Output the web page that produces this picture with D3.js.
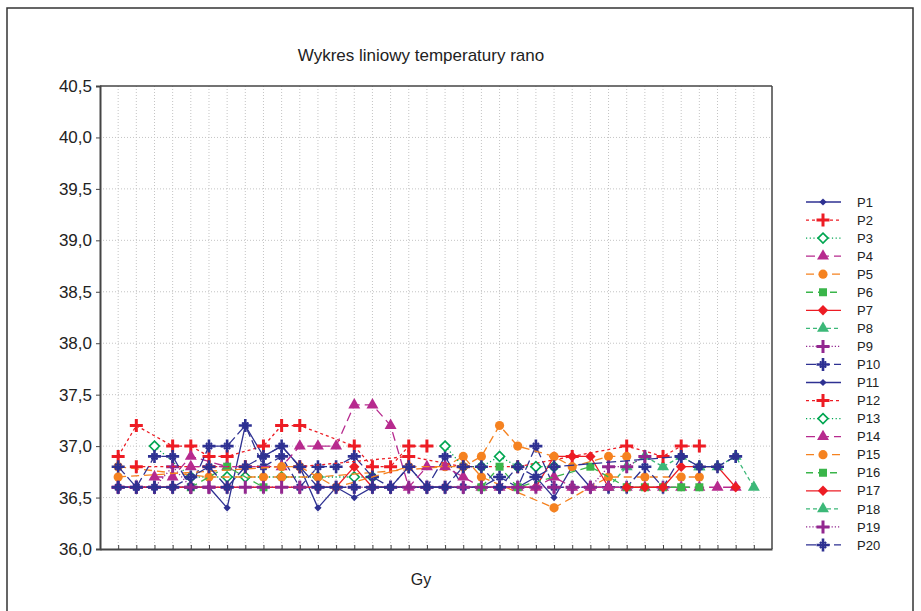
<!DOCTYPE html>
<html><head><meta charset="utf-8">
<script src="https://cdn.jsdelivr.net/npm/d3@7"></script>
<style>body{margin:0;background:#fff}svg{display:block}text{font-family:"Liberation Sans",Arial,sans-serif;fill:#222}</style>
</head><body><svg id="c" width="921" height="611"></svg>
<script>
const _ = null;
const title = "Wykres liniowy temperatury rano";
const xLabel = "Gy";
const categories = [1,2,3,4,5,6,7,8,9,10,11,12,13,14,15,16,17,18,19,20,21,22,23,24,25,26,27,28,29,30,31,32,33,34,35,36];
const yTicks = [36.0,36.5,37.0,37.5,38.0,38.5,39.0,39.5,40.0,40.5];
const seriesNames = ["P1","P2","P3","P4","P5","P6","P7","P8","P9","P10","P11","P12","P13","P14","P15","P16","P17","P18","P19","P20"];

const P1  = [36.6,36.6,36.6,36.6,_,36.6, 36.4,37.2,36.9,37.0,36.8,36.4, 36.6,36.5,36.6,36.6,_,36.6, _,_,_,_,_,_, _,_,_,_,_,_, _,_,_,_,_,_];
const P2  = [36.9,37.2,_,37.0,37.0,36.9, 36.9,_,37.0,37.2,37.2,_, _,37.0,36.8,36.8,37.0,37.0, _,_,_,_,_,_, _,_,_,_,_,_, _,_,_,_,_,_];
const P3  = [_,_,37.0,_,36.7,_, 36.7,36.7,_,36.7,_,36.7, _,36.7,36.7,_,_,_, _,_,_,_,_,_, _,_,_,_,_,_, _,_,_,_,_,_];
const P4  = [_,_,36.7,36.7,36.9,_, 36.8,_,_,_,_,_, _,_,_,_,_,_, _,_,_,_,_,_, _,_,_,_,_,_, _,_,_,_,_,_];
const P5  = [36.8,_,_,_,_,36.7, _,_,36.7,36.7,_,36.7, _,_,_,_,_,_, 36.8,36.9,36.7,_,_,_, 36.4,_,_,36.7,_,36.7, _,36.7,36.7,_,_,_];
const P6  = [_,_,_,_,36.6,_, 36.8,_,36.6,_,_,_, _,_,_,_,_,_, _,_,_,_,_,_, _,_,_,_,_,_, _,_,_,_,_,_];
const P7  = [36.6,_,_,36.6,_,_, 36.6,_,_,_,_,36.6, 36.6,36.8,36.6,36.6,_,36.6, 36.6,_,_,36.6,_,36.6, 36.9,36.9,36.9,36.6,_,_, _,_,_,_,_,_];
const P8  = [_,_,_,_,_,_, _,_,_,_,_,_, _,_,_,_,_,_, _,_,_,_,_,_, _,_,_,36.6,36.8,36.9, 36.8,36.9,36.8,_,_,_];
const P9  = [36.6,36.6,36.6,36.8,36.6,36.6, _,_,_,_,_,_, _,_,_,_,_,_, _,_,_,_,_,_, _,_,_,_,_,_, _,_,_,_,_,_];
const P10 = [36.8,36.6,36.9,36.9,36.6,37.0, 37.0,37.2,36.8,36.9,36.6,36.8, 36.8,36.9,36.7,36.6,36.8,36.6, 36.9,36.6,36.6,36.7,36.6,37.0, 36.6,36.6,36.6,36.6,36.6,36.8, 36.6,36.9,_,_,_,_];
const P11 = [_,_,_,_,_,_, _,_,_,_,_,_, _,_,_,36.6,_,36.6, 36.6,36.6,_,36.6,36.6,36.7, 36.5,36.8,36.6,_,_,_, _,_,_,_,_,_];
const P12 = [_,36.8,_,_,_,36.8, _,36.8,_,_,36.8,_, _,_,_,_,36.9,_, _,36.8,_,_,36.8,_, _,36.9,_,_,37.0,_, 36.9,37.0,37.0,_,_,_];
const P13 = [_,_,_,_,_,_, _,_,_,_,_,_, _,_,_,_,_,_, 37.0,36.8,36.8,36.9,36.8,36.8, 36.8,_,_,_,_,_, _,_,_,_,_,_];
const P14 = [_,_,_,_,36.8,_, _,_,_,36.8,37.0,37.0, 37.0,37.4,37.4,37.2,36.6,36.8, 36.8,36.7,36.6,36.6,36.6,36.6, 36.7,36.6,36.6,36.6,36.6,36.6, 36.6,36.6,36.6,36.6,36.6,_];
const P15 = [36.7,_,_,_,_,_, _,_,_,36.8,36.8,_, 36.6,_,_,_,36.8,_, _,36.8,36.9,37.2,37.0,_, 36.9,36.8,_,36.9,36.9,_, _,_,_,_,_,_];
const P16 = [_,_,_,_,_,_, _,_,_,_,_,_, _,_,_,_,_,_, _,_,36.6,36.8,36.6,_, _,_,36.8,_,36.6,36.6, 36.6,36.6,36.6,_,_,_];
const P17 = [_,_,_,_,_,_, _,_,_,_,_,_, _,_,_,_,_,_, _,_,_,_,_,_, _,_,_,_,36.6,36.6, 36.6,36.8,36.8,36.8,36.6,_];
const P18 = [_,_,_,_,_,_, _,_,_,_,_,_, _,_,_,_,_,_, _,_,_,_,_,_, _,_,_,_,_,_, _,_,36.8,36.8,36.9,36.6];
const P19 = [36.6,36.6,36.6,36.6,36.6,36.6, 36.6,36.6,36.6,36.6,36.6,36.6, 36.6,36.6,36.6,36.6,36.6,36.6, 36.6,36.6,36.6,36.6,36.6,36.6, 36.6,36.6,36.6,36.8,36.8,36.9, _,_,_,_,_,_];
const P20 = [36.6,36.6,36.6,36.6,36.7,36.8, 36.6,36.8,36.9,37.0,36.8,36.6, 36.6,36.6,36.6,36.6,36.8,36.6, 36.6,36.8,36.8,36.6,36.8,36.7, 36.8,_,_,_,_,_, _,36.9,36.8,36.8,36.9,_];

const seriesValues = [P1,P2,P3,P4,P5,P6,P7,P8,P9,P10,P11,P12,P13,P14,P15,P16,P17,P18,P19,P20];

// styles (repeat for P11..P20)
const NAVY="#2e3192", RED="#ed1c24", DGREEN="#00a651", MAG="#b72a8e", ORANGE="#f58220", GREEN="#3ab54a", MGREEN="#3cb878", PURPLE="#92278f";
const baseStyles = [
  {color:NAVY,  dash:null,      marker:"diamondS"},
  {color:RED,   dash:"3,3",     marker:"plus"},
  {color:DGREEN,dash:"1.2,2.5", marker:"diamondOpen"},
  {color:MAG,   dash:"9,5",     marker:"triangle"},
  {color:ORANGE,dash:"8,5",     marker:"circle"},
  {color:GREEN, dash:"7,5",     marker:"square"},
  {color:RED,   dash:null,      marker:"diamond"},
  {color:MGREEN,dash:"4,3",     marker:"triangle"},
  {color:PURPLE,dash:"1.2,2",   marker:"plus"},
  {color:NAVY,  dash:"10,4",    marker:"star"}
];
const styles = seriesNames.map((n,i)=>baseStyles[i%10]);

const svg = d3.select("#c");
const L=100, R=772, T=86, B=549;
const x = d3.scaleLinear().domain([0,37]).range([L,R]);
const y = d3.scaleLinear().domain([36,40.5]).range([B,T]);

// outer frame
svg.append("rect").attr("x",7).attr("y",8).attr("width",906).attr("height",640)
  .attr("fill","none").attr("stroke","#333").attr("stroke-width",1.5);

// title
svg.append("text").attr("x",421).attr("y",61).attr("text-anchor","middle")
  .style("font-size","17px").text(title);

// grid
const grid = svg.append("g");
grid.selectAll("line.v").data(categories).join("line")
  .attr("x1",d=>x(d)).attr("x2",d=>x(d)).attr("y1",T).attr("y2",B)
  .attr("stroke","#c4c4c4").attr("stroke-width",1).attr("stroke-dasharray","1,2");
grid.selectAll("line.h").data(yTicks.slice(1,-1)).join("line")
  .attr("x1",L).attr("x2",R).attr("y1",d=>y(d)).attr("y2",d=>y(d))
  .attr("stroke","#c4c4c4").attr("stroke-width",1).attr("stroke-dasharray","1,2");

// axes
const fmt = d => d3.format(".1f")(d).replace(".",",");
const yAx = svg.append("g").attr("transform",`translate(${L},0)`)
  .call(d3.axisLeft(y).tickValues(yTicks).tickFormat(fmt).tickSize(4).tickPadding(4));
yAx.select(".domain").attr("stroke","#444").attr("stroke-width",2);
yAx.selectAll(".tick line").attr("stroke","#444");
yAx.selectAll("text").style("font-size","17px").attr("fill","#222");

const xAx = svg.append("g").attr("transform",`translate(0,${B})`)
  .call(d3.axisBottom(x).tickValues(categories).tickFormat("").tickSize(-4).tickSizeOuter(0));
xAx.select(".domain").attr("stroke","#444").attr("stroke-width",2);
xAx.selectAll(".tick line").attr("stroke","#444");

// top & right border
svg.append("line").attr("x1",L).attr("x2",R).attr("y1",T).attr("y2",T).attr("stroke","#444").attr("stroke-width",1.5);
svg.append("line").attr("x1",R).attr("x2",R).attr("y1",T).attr("y2",B).attr("stroke","#444").attr("stroke-width",1.5);

svg.append("text").attr("x",421).attr("y",585).attr("text-anchor","middle")
  .style("font-size","16px").text(xLabel);

// markers
function drawMarker(g, type, color) {
  const sym = (t,s)=>d3.symbol().type(t).size(s)();
  const dia = r=>`M0,${-r}L${r},0L0,${r}L${-r},0Z`;
  switch(type){
    case "diamondS": g.append("path").attr("d",dia(3.6)).attr("fill",color); break;
    case "diamond": g.append("path").attr("d",dia(5.2)).attr("fill",color); break;
    case "diamondOpen": g.append("path").attr("d",dia(5)).attr("fill","#fff").attr("stroke",color).attr("stroke-width",1.6); break;
    case "triangle": g.append("path").attr("d",sym(d3.symbolTriangle,62)).attr("fill",color); break;
    case "circle": g.append("path").attr("d",sym(d3.symbolCircle,66)).attr("fill",color); break;
    case "square": g.append("path").attr("d",sym(d3.symbolSquare,64)).attr("fill",color); break;
    case "plus": g.append("path").attr("d","M-6.5,0H6.5M0,-6.5V6.5").attr("stroke",color).attr("stroke-width",3).attr("fill","none"); break;
    case "star":
      g.append("path").attr("d","M-6.5,0H6.5M0,-6.5V6.5").attr("stroke",color).attr("stroke-width",2.6).attr("fill","none");
      g.append("path").attr("d","M-3.5,-2.3H3.5M-3.5,2.3H3.5M-2.3,-3.5V3.5M2.3,-3.5V3.5").attr("stroke",color).attr("stroke-width",1.3).attr("fill","none");
      break;
  }
}

const plot = svg.append("g");
seriesValues.forEach((vals,i)=>{
  const st = styles[i];
  const pts = categories.map((c,j)=>({c, v: vals[j]})).filter(d=>d.v!==null);
  const line = d3.line().x(d=>x(d.c)).y(d=>y(d.v));
  const g = plot.append("g");
  g.append("path").attr("d",line(pts)).attr("fill","none").attr("stroke",st.color)
    .attr("stroke-width",1.3).attr("stroke-dasharray",st.dash);
  pts.forEach(d=>{
    const mg = g.append("g").attr("transform",`translate(${x(d.c)},${y(d.v)})`);
    drawMarker(mg, st.marker, st.color);
  });
});

// legend
const lg = svg.append("g");
seriesNames.forEach((n,i)=>{
  const st = styles[i];
  const yy = 202 + i*18.05;
  const row = lg.append("g").attr("transform",`translate(0,${yy})`);
  row.append("line").attr("x1",806).attr("x2",841).attr("y1",0).attr("y2",0)
    .attr("stroke",st.color).attr("stroke-width",1.3).attr("stroke-dasharray",st.dash);
  drawMarker(row.append("g").attr("transform","translate(823,0)"), st.marker, st.color);
  row.append("text").attr("x",857).attr("y",0).attr("dy","0.36em").style("font-size","13px").text(n);
});
</script></body></html>
